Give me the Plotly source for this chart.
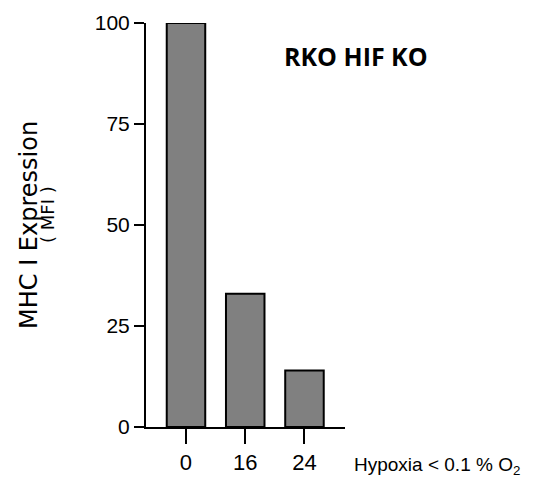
import plotly.graph_objects as go

# Hours of hypoxia and MHC I expression (MFI, % of normoxia)
hours = ["0", "16", "24"]
mhc_mfi = [100, 33, 14]
y_ticks = [0, 25, 50, 75, 100]

SANS = "Liberation Sans, Arial, sans-serif"
WIDE = "DejaVu Sans, Verdana, sans-serif"

fig = go.Figure()
fig.add_trace(go.Bar(
    x=hours,
    y=mhc_mfi,
    width=0.65,
    marker=dict(color="#808080", line=dict(color="#000000", width=2)),
    cliponaxis=False,
    showlegend=False,
))

fig.update_layout(
    width=533,
    height=477,
    autosize=False,
    margin=dict(l=146, r=188, t=23, b=50),
    paper_bgcolor="white",
    plot_bgcolor="white",
    xaxis=dict(
        type="category",
        range=[-0.675, 2.684],
        automargin=False,
        showline=True, linecolor="black", linewidth=2,
        ticks="outside", ticklen=15, tickwidth=2, tickcolor="black",
        tickfont=dict(family=SANS, size=22, color="black"),
        showgrid=False, zeroline=False,
    ),
    yaxis=dict(
        range=[0, 100],
        tickvals=y_ticks,
        automargin=False,
        showline=True, linecolor="black", linewidth=2,
        ticks="outside", ticklen=10, tickwidth=2, tickcolor="black",
        tickfont=dict(family=SANS, size=21, color="black"),
        showgrid=False, zeroline=False,
    ),
    annotations=[
        dict(text="<b>RKO HIF KO</b>", xref="paper", yref="paper",
             x=(356 - 146) / 199, y=1 - (56 - 23) / 404,
             xanchor="center", yanchor="middle", showarrow=False,
             font=dict(family="Open Sans, sans-serif", size=25, color="black")),
        dict(text="Hypoxia < 0.1 % O<sub>2</sub>", xref="paper", yref="paper",
             x=(352 - 146) / 199, y=-(466 - 427) / 404,
             xanchor="left", yanchor="middle", showarrow=False,
             font=dict(family=SANS, size=19, color="black")),
        dict(text="MHC I Expression", xref="paper", yref="paper",
             x=-(146 - 29) / 199, y=1 - (225 - 23) / 404,
             xanchor="center", yanchor="middle", textangle=-90, showarrow=False,
             font=dict(family=WIDE, size=24, color="black")),
        dict(text="( MFI )", xref="paper", yref="paper",
             x=-(146 - 47) / 199, y=1 - (215 - 23) / 404,
             xanchor="center", yanchor="middle", textangle=-90, showarrow=False,
             font=dict(family=WIDE, size=18, color="black")),
    ],
)

fig.write_html("out.html")
